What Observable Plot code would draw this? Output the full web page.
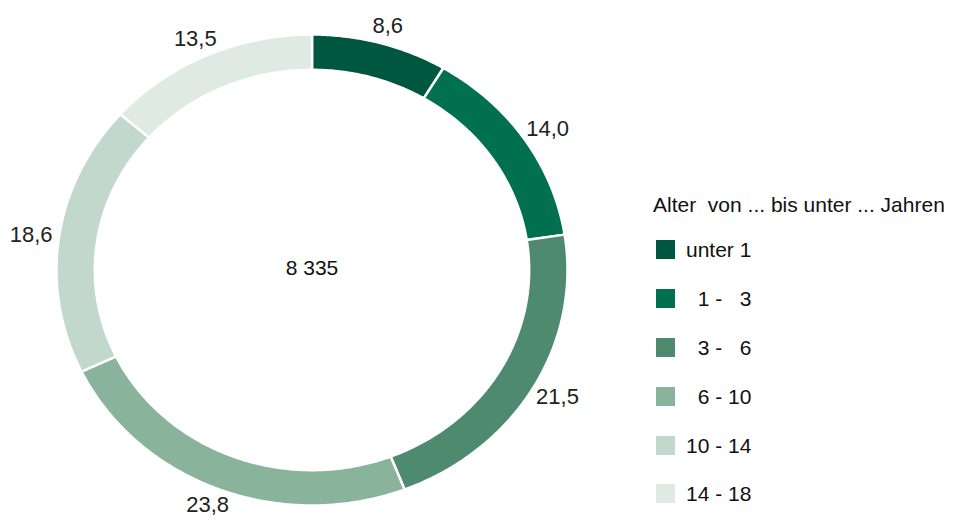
<!DOCTYPE html>
<html>
<head>
<meta charset="utf-8">
<script src="https://cdn.jsdelivr.net/npm/d3@7"></script>
<script src="https://cdn.jsdelivr.net/npm/@observablehq/plot@0.6"></script>
<style>
  html, body { margin: 0; padding: 0; background: #fff; }
  body { width: 953px; height: 521px; position: relative; overflow: hidden; font-family: "Liberation Sans", Arial, sans-serif; }
  #chart { position: absolute; left: 0; top: 0; }
  #legend { position: absolute; left: 653px; top: 193px; font-size: 21px; color: #111; }
  #legend .title { white-space: pre; height: 24px; line-height: 24px; margin-bottom: 23px; }
  #legend .item { display: flex; align-items: center; height: 19px; margin-bottom: 29.9px; margin-left: 3px; }
  #legend .sw { width: 19px; height: 19px; margin-right: 11px; }
  #legend .lab { white-space: pre; line-height: 19px; }
</style>
</head>
<body>
<div id="chart"></div>
<div id="legend"></div>
<script>
const categories = ["unter 1", "  1 -   3", "  3 -   6", "  6 - 10", "10 - 14", "14 - 18"];
const values = [8.6, 14.0, 21.5, 23.8, 18.6, 13.5];
const colors = ["#00573f", "#00704f", "#4e8a6f", "#8ab39c", "#c3d8cd", "#dfeae4"];
const total = 8335;
const legendTitle = "Alter  von ... bis unter ... Jahren";

const sum = d3.sum(values);
const inner = 0.85;
const polys = [];
const labels = [];
let cum = 0;
values.forEach((v, i) => {
  const a0 = cum / sum * 2 * Math.PI;
  const a1 = (cum + v) / sum * 2 * Math.PI;
  cum += v;
  const n = Math.max(8, Math.ceil((a1 - a0) / 0.01));
  for (let k = 0; k <= n; k++) {
    const a = a0 + (a1 - a0) * k / n;
    polys.push({cat: categories[i], x: Math.sin(a), y: Math.cos(a)});
  }
  for (let k = n; k >= 0; k--) {
    const a = a0 + (a1 - a0) * k / n;
    polys.push({cat: categories[i], x: inner * Math.sin(a), y: inner * Math.cos(a)});
  }
  const am = (a0 + a1) / 2;
  labels.push({x: 1.11 * Math.sin(am), y: 1.075 * Math.cos(am), text: v.toFixed(1).replace(".", ",")});
});

const fmtTotal = d3.format(",")(total).replace(/,/g, " ");

const plot = Plot.plot({
  width: 953,
  height: 521,
  margin: 0,
  x: {domain: [-1, 1], range: [56, 567], axis: null},
  y: {domain: [-1, 1], range: [505, 34], axis: null},
  color: {domain: categories, range: colors},
  style: {fontFamily: "Liberation Sans, Arial, sans-serif", background: "white"},
  marks: [
    Plot.line(polys, {x: "x", y: "y", z: "cat", fill: "cat", stroke: "white", strokeWidth: 2.5, curve: "linear-closed"}),
    Plot.text(labels, {x: "x", y: "y", text: "text", fontSize: 22, fill: "#222"}),
    Plot.text([{x: 0, y: 0, t: fmtTotal}], {x: "x", y: "y", text: "t", fontSize: 21, fill: "#111", dy: -2})
  ]
});
document.getElementById("chart").appendChild(plot);

const lg = document.getElementById("legend");
const t = document.createElement("div");
t.className = "title";
t.textContent = legendTitle;
lg.appendChild(t);
categories.forEach((c, i) => {
  const it = document.createElement("div");
  it.className = "item";
  const sw = document.createElement("div");
  sw.className = "sw";
  sw.style.background = colors[i];
  const lab = document.createElement("span");
  lab.className = "lab";
  lab.textContent = c;
  it.appendChild(sw);
  it.appendChild(lab);
  lg.appendChild(it);
});
</script>
</body>
</html>
